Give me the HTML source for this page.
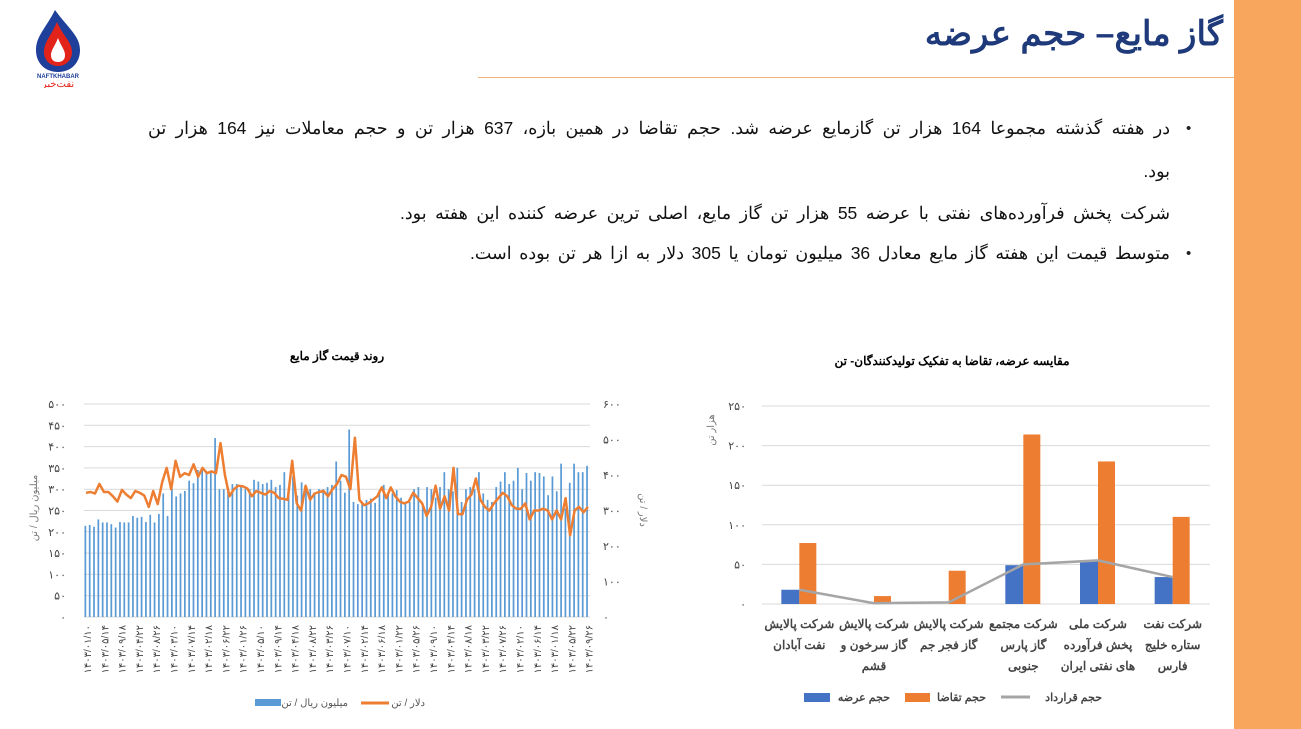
<!DOCTYPE html>
<html><head><meta charset="utf-8"><style>
body{margin:0;width:1301px;height:729px;overflow:hidden;background:#fff;font-family:"Liberation Sans","Noto Sans CJK SC",sans-serif;position:relative}
.side{position:absolute;left:1234px;top:0;width:67px;height:729px;background:#F8A65D}
.title{position:absolute;right:78px;top:14px;font-size:34px;font-weight:bold;color:#1F3A7A;direction:rtl;white-space:nowrap}
.rule{position:absolute;left:478px;top:77px;width:756px;height:1px;background:#F3B47A}
.txt{position:absolute;right:131px;direction:rtl;font-size:17.5px;color:#111;white-space:nowrap}
.bul{position:absolute;left:1186px;font-size:15px;color:#222}
</style></head><body>
<div class="side"></div>
<svg style="position:absolute;left:28px;top:8px" width="62" height="80">
<path d="M27 2 C18 20 8 28 8 42 C8 56 18 64 30 64 C42 64 52 56 52 42 C52 28 40 20 27 2Z" fill="#1E3F9A"/>
<path d="M29 14 C23 28 16 34 16 44 C16 52 22 58 30 58 C38 58 44 52 44 44 C44 34 35 28 29 14Z" fill="#E2231A"/>
<path d="M30 30 C27 38 23 42 23 47 C23 52 26 54 30 54 C34 54 37 52 37 47 C37 42 33 38 30 30Z" fill="#fff"/>
<text x="30" y="70" font-size="6" text-anchor="middle" fill="#1E3F9A" font-weight="bold" font-family="Liberation Sans">NAFTKHABAR</text>
<text x="30" y="79" font-size="10" text-anchor="middle" fill="#E2231A" font-family="Liberation Sans,Noto Sans CJK SC,sans-serif">نفت‌خبر</text>
</svg>
<div class="title">گاز مایع– حجم عرضه</div>
<div class="rule"></div>
<div class="bul" style="top:120px">•</div>
<div class="txt" id="t1" data-w="1022" style="top:118px">در هفته گذشته مجموعا 164 هزار تن گازمایع عرضه شد. حجم تقاضا در همین بازه، 637 هزار تن و حجم معاملات نیز 164 هزار تن</div>
<div class="txt" style="top:161px">بود.</div>
<div class="txt" id="t3" data-w="770" style="top:203px">شرکت پخش فرآورده‌های نفتی با عرضه 55 هزار تن گاز مایع، اصلی ترین عرضه کننده این هفته بود.</div>
<div class="bul" style="top:245px">•</div>
<div class="txt" id="t4" data-w="700" style="top:243px">متوسط قیمت این هفته گاز مایع معادل 36 میلیون تومان یا 305 دلار به ازا هر تن بوده است.</div>
<svg id="L" style="position:absolute;left:0;top:340px" width="650" height="389" font-family="Liberation Sans,Noto Sans CJK SC,sans-serif"></svg>
<svg id="R" style="position:absolute;left:690px;top:340px" width="544" height="389" font-family="Liberation Sans,Noto Sans CJK SC,sans-serif"></svg>
<script>
['t1','t3','t4'].forEach(function(id){var e=document.getElementById(id);var W=+e.getAttribute('data-w');var cur=e.getBoundingClientRect().width;var sp=(e.textContent.match(/ /g)||[]).length;if(sp&&W>cur)e.style.wordSpacing=((W-cur)/sp)+'px';});
function fa(n){return String(n).replace(/\d/g,d=>'۰۱۲۳۴۵۶۷۸۹'[d]);}
var s='';
s+='<text x="337" y="20" font-size="12" font-weight="bold" text-anchor="middle" direction="rtl">روند قیمت گاز مایع</text>';
var x0=84,x1=590,yb=277,yt=64;
for(var i=0;i<=10;i++){var y=yb-(yb-yt)*i/10;s+='<line x1="'+x0+'" x2="'+x1+'" y1="'+y+'" y2="'+y+'" stroke="#d9d9d9"/>';s+='<text x="66" y="'+(y+4)+'" font-size="11" text-anchor="end" fill="#444">'+fa(i*50)+'</text>';}
for(var i=0;i<=6;i++){var y=yb-(yb-yt)*i/6;s+='<text x="603" y="'+(y+4)+'" font-size="11" fill="#444">'+fa(i*100)+'</text>';}
s+='<text transform="translate(37,168) rotate(-90)" font-size="10" fill="#777" text-anchor="middle">میلیون ریال / تن</text>';
s+='<text transform="translate(640,170) rotate(90)" font-size="10" fill="#777" text-anchor="middle">دلار / تن</text>';
var B=[214,216,212,229,222,222,218,210,223,222,222,237,233,235,223,240,222,242,290,237,303,283,290,296,320,314,345,345,342,343,420,300,300,303,312,312,305,300,300,322,318,312,315,322,305,310,340,300,330,285,316,295,300,292,300,300,305,310,365,320,292,440,270,265,270,275,278,268,298,310,290,290,298,280,270,270,300,305,265,305,300,280,305,340,300,295,350,270,300,305,300,340,290,275,270,305,318,340,312,320,350,300,338,320,340,338,330,286,330,295,360,255,315,360,340,340,355];
var n=B.length,w=(x1-x0)/n;
B.forEach(function(v,i){var h=v/500*(yb-yt);s+='<rect x="'+(x0+i*w+0.5)+'" y="'+(yb-h)+'" width="'+(w*0.4)+'" height="'+h+'" fill="#5B9BD5"/>';});
var D=[350,352,348,375,352,352,340,325,358,345,335,355,350,342,310,355,318,380,420,360,440,395,405,400,430,395,420,405,410,405,490,400,340,360,370,368,362,340,355,350,345,355,350,335,333,330,440,320,300,370,330,348,352,355,340,360,375,400,395,360,505,330,315,320,330,340,365,335,365,340,325,320,325,350,335,320,285,310,370,305,340,300,420,290,290,330,345,390,330,310,300,320,335,350,340,315,305,305,320,275,300,300,305,300,275,300,275,335,230,300,310,295,310];
var m=D.length,p='';D.forEach(function(v,i){p+=(i?'L':'M')+(x0+2+i*(x1-x0-4)/(m-1)).toFixed(1)+' '+(yb-v/600*(yb-yt)).toFixed(1);});
s+='<path d="'+p+'" fill="none" stroke="#ED7D31" stroke-width="2.5" stroke-linejoin="round"/>';
for(var i=0;i<n;i+=4){var x=x0+i*w+3;s+='<text transform="translate('+(x+4)+',285) rotate(-90)" font-size="10" fill="#444" text-anchor="end">'+fa('1403/0'+(i%9+1)+'/'+(10+i%20))+'</text>';}
s+='<rect x="255" y="359" width="26" height="7" fill="#5B9BD5"/><text x="348" y="366" font-size="10" fill="#555" text-anchor="end">میلیون ریال / تن</text>';
s+='<line x1="361" x2="389" y1="363" y2="363" stroke="#ED7D31" stroke-width="3"/><text x="425" y="366" font-size="10" fill="#555" text-anchor="end">دلار / تن</text>';
document.getElementById('L').innerHTML=s;
s='';
s+='<text x="262" y="25" font-size="12" font-weight="bold" text-anchor="middle" direction="rtl">مقایسه عرضه، تقاضا به تفکیک تولیدکنندگان-  تن</text>';
x0=72;x1=520;yb=264;yt=66;
for(var i=0;i<=5;i++){var y=yb-(yb-yt)*i/5;s+='<line x1="'+x0+'" x2="'+x1+'" y1="'+y+'" y2="'+y+'" stroke="#d9d9d9"/>';s+='<text x="56" y="'+(y+4)+'" font-size="11" text-anchor="end" fill="#444">'+fa(i*50)+'</text>';}
s+='<text transform="translate(24,90) rotate(-90)" font-size="10" fill="#777" text-anchor="middle">هزار تن</text>';
var S=[18,0,0,49,55,34],T=[77,10,42,214,180,110],C=[18,1,2,50,55,34];
var cw=(x1-x0)/6,k=(yb-yt)/250,lp='';
var labs=[['شرکت پالایش','نفت آبادان'],['شرکت پالایش','گاز سرخون و','قشم'],['شرکت پالایش','گاز فجر جم'],['شرکت مجتمع','گاز پارس','جنوبی'],['شرکت ملی','پخش فرآورده','های نفتی ایران'],['شرکت نفت','ستاره خلیج','فارس']];
for(var i=0;i<6;i++){var c=x0+cw*i+cw/2;
if(S[i])s+='<rect x="'+(c-18)+'" y="'+(yb-S[i]*k)+'" width="18" height="'+S[i]*k+'" fill="#4472C4"/>';
s+='<rect x="'+c+'" y="'+(yb-T[i]*k)+'" width="17" height="'+T[i]*k+'" fill="#ED7D31"/>';
lp+=(i?'L':'M')+c+' '+(yb-C[i]*k);
labs[i].forEach(function(t,j){s+='<text x="'+c+'" y="'+(288+j*21)+'" font-size="12" font-weight="bold" fill="#444" text-anchor="middle" direction="rtl">'+t+'</text>';});}
s+='<path d="'+lp+'" fill="none" stroke="#A5A5A5" stroke-width="2.5"/>';
s+='<rect x="114" y="353" width="26" height="9" fill="#4472C4"/><text x="200" y="361" font-size="11" font-weight="bold" fill="#444" text-anchor="end">حجم عرضه</text>';
s+='<rect x="215" y="353" width="25" height="9" fill="#ED7D31"/><text x="296" y="361" font-size="11" font-weight="bold" fill="#444" text-anchor="end">حجم تقاضا</text>';
s+='<line x1="311" x2="340" y1="357" y2="357" stroke="#A5A5A5" stroke-width="3"/><text x="412" y="361" font-size="11" font-weight="bold" fill="#444" text-anchor="end">حجم قرارداد</text>';
document.getElementById('R').innerHTML=s;
</script>
</body></html>
